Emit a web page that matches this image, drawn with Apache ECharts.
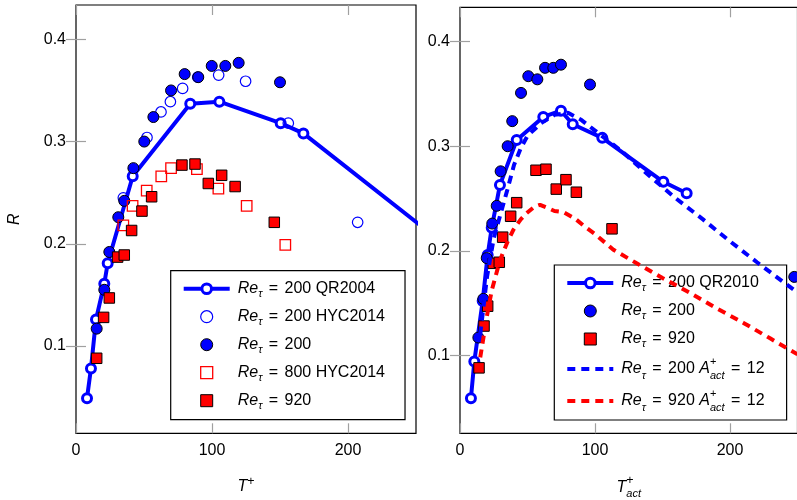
<!DOCTYPE html>
<html>
<head>
<meta charset="utf-8">
<script src="https://cdn.jsdelivr.net/npm/echarts@6/dist/echarts.min.js"></script>
<style>
  html, body { margin: 0; padding: 0; background: #fff; }
  #chart { width: 797px; height: 500px; }
</style>
</head>
<body>
<div id="chart"></div>
<script>
// ---- Left panel: R against T+ ----
const qr2004T = [8.1, 11, 14.7, 20.8, 23.3, 41.7, 84, 105.4, 150.5, 167.2, 300];
const qr2004R = [0.049, 0.078, 0.126, 0.161, 0.181, 0.266, 0.337, 0.339, 0.318, 0.308, 0.169];

const hyc200T = [34.8, 52.2, 62.5, 69.4, 78.4, 89.5, 104.9, 124.7, 156.1, 207.1];
const hyc200R = [0.245, 0.304, 0.329, 0.339, 0.352, 0.363, 0.365, 0.359, 0.318, 0.221];

const dns200T = [15.2, 20.8, 24.5, 31.1, 35.5, 42.2, 50.2, 56.9, 69.9, 79.9, 89.9, 99.8, 109.8, 119.6, 150];
const dns200R = [0.117, 0.155, 0.192, 0.226, 0.242, 0.274, 0.300, 0.324, 0.350, 0.366, 0.363, 0.374, 0.374, 0.377, 0.358];

const hyc800T = [34.8, 41.6, 52, 62.7, 69.9, 88.9, 104.7, 125.5, 153.9];
const hyc800R = [0.218, 0.237, 0.252, 0.266, 0.274, 0.273, 0.254, 0.237, 0.199];

const dns920T = [15.2, 20.3, 24.5, 30.6, 35.5, 40.9, 48.5, 55.6, 77.9, 87.5, 97.3, 107.1, 117, 145.8];
const dns920R = [0.088, 0.128, 0.147, 0.187, 0.189, 0.213, 0.232, 0.246, 0.277, 0.278, 0.259, 0.267, 0.256, 0.221];

// ---- Right panel: R against T+_act ----
const qr2010T = [8.1, 10.6, 16.8, 20.5, 23.5, 29.6, 42, 61.7, 74.8, 83.5, 105.4, 150.6, 167.9];
const qr2010R = [0.059, 0.094, 0.152, 0.196, 0.222, 0.263, 0.306, 0.328, 0.334, 0.321, 0.308, 0.266, 0.255];

const act200T = [13.6, 17.3, 19.8, 23.9, 27.2, 30.1, 35.3, 38.7, 45.2, 50.6, 57.3, 63, 69.1, 74.8, 96.3, 247.6];
const act200R = [0.117, 0.154, 0.193, 0.226, 0.243, 0.276, 0.300, 0.324, 0.351, 0.367, 0.364, 0.375, 0.375, 0.378, 0.359, 0.175];

const act920T = [14.1, 17.8, 20.5, 24.7, 29.1, 31.6, 37.5, 42, 56.3, 63.7, 71.3, 78.5, 86.2, 112.6];
const act920R = [0.088, 0.128, 0.147, 0.188, 0.189, 0.213, 0.233, 0.246, 0.277, 0.278, 0.259, 0.268, 0.256, 0.221];

const model200T = [15, 20, 25, 30, 35, 40, 45, 50, 60, 70, 80, 90, 100, 120, 140, 160, 180, 200, 220, 250];
const model200R = [0.120, 0.175, 0.212, 0.235, 0.258, 0.282, 0.298, 0.310, 0.322, 0.330, 0.332, 0.325, 0.315, 0.295, 0.272, 0.250, 0.230, 0.209, 0.189, 0.160];

const model920T = [15, 20, 23.5, 29.6, 35, 39.5, 45, 49.4, 55, 59.3, 65, 70, 76.5, 85, 92.6, 100, 113.6, 130.9, 150, 170, 190, 210, 230, 250];
const model920R = [0.098, 0.138, 0.162, 0.191, 0.208, 0.220, 0.230, 0.236, 0.242, 0.244, 0.241, 0.238, 0.237, 0.231, 0.223, 0.216, 0.201, 0.188, 0.174, 0.160, 0.145, 0.131, 0.116, 0.101];

// ---- Ticks ----
const xTicks = [0, 100, 200];
const yTicks = [0.1, 0.2, 0.3, 0.4];

const FONT = '"Liberation Sans", Arial, Helvetica, sans-serif';
const BLUE = '#0000ff';
const RED = '#ff0000';
const SQUARE = 'path://M0,0H10V10H0Z';

function pairs(xs, ys) { return xs.map((x, i) => [x, ys[i]]); }

const base = { fontFamily: FONT, color: '#000', align: 'left' };
const rich = {
  it:   Object.assign({ fontStyle: 'italic', fontSize: 16, lineHeight: 22 }, base),
  it2:  Object.assign({ fontStyle: 'italic', fontSize: 16, lineHeight: 26 }, base),
  n:    Object.assign({ fontSize: 16, lineHeight: 22 }, base),
  eq:   Object.assign({ fontSize: 16, lineHeight: 22, padding: [0, 2, 0, 2] }, base),
  sub:  Object.assign({ fontStyle: 'italic', fontSize: 11, lineHeight: 12, height: 12, verticalAlign: 'bottom' }, base),
  sup:  Object.assign({ fontSize: 11, lineHeight: 12, height: 12, verticalAlign: 'top' }, base),
  supz: Object.assign({ fontSize: 11, lineHeight: 12, height: 12, verticalAlign: 'top', width: 0 }, base),
  xsup: Object.assign({ fontSize: 12.5, lineHeight: 12, height: 12, verticalAlign: 'top' }, base),
  xsupz: Object.assign({ fontSize: 12.5, lineHeight: 12, height: 12, verticalAlign: 'top', width: 0 }, base)
};

const legendLabels = {
  qr2004: '{it|Re}{sub|τ}{eq| = }{n|200 QR2004}',
  hyc200: '{it|Re}{sub|τ}{eq| = }{n|200 HYC2014}',
  dns200: '{it|Re}{sub|τ}{eq| = }{n|200}',
  hyc800: '{it|Re}{sub|τ}{eq| = }{n|800 HYC2014}',
  dns920: '{it|Re}{sub|τ}{eq| = }{n|920}',
  qr2010: '{it|Re}{sub|τ}{eq| = }{n|200 QR2010}',
  act200: '{it|Re}{sub|τ}{eq| = }{n|200}',
  act920: '{it|Re}{sub|τ}{eq| = }{n|920}',
  les200: '{it2|Re}{sub|τ}{eq| = }{n|200 }{it|A}{supz|+}{sub|act}{eq| = }{n|12}',
  les920: '{it2|Re}{sub|τ}{eq| = }{n|920 }{it|A}{supz|+}{sub|act}{eq| = }{n|12}'
};

const tick = (vals) => ({
  show: true, inside: true, length: 10, customValues: vals,
  lineStyle: { color: '#a0a0a0', width: 1.2 }
});
const labelStyle = { fontSize: 16, fontFamily: FONT, color: '#000' };

function xAxisDef(grid, pos, withLabels, name, gap) {
  return {
    type: 'value', gridIndex: grid, position: pos, min: 0, max: 250,
    axisLine: { show: false }, splitLine: { show: false },
    axisTick: tick(xTicks),
    axisLabel: withLabels
      ? Object.assign({ customValues: xTicks, margin: 9 }, labelStyle)
      : { show: false },
    name: name || '', nameLocation: 'middle', nameGap: gap || 42, nameMoveOverlap: false,
    nameTextStyle: { rich: rich, fontSize: 16, fontFamily: FONT, color: '#000' }
  };
}
function yAxisDef(grid, pos, lo, hi, withLabels, name) {
  return {
    type: 'value', gridIndex: grid, position: pos, min: lo, max: hi,
    axisLine: { show: false }, splitLine: { show: false },
    axisTick: tick(yTicks),
    axisLabel: withLabels
      ? Object.assign({ customValues: yTicks, margin: 10, formatter: v => v.toFixed(1) }, labelStyle)
      : { show: false },
    name: name || '', nameLocation: 'middle', nameGap: 52, nameRotate: 90, nameMoveOverlap: false,
    nameTextStyle: { fontStyle: 'italic', fontSize: 16, fontFamily: FONT, color: '#000', lineHeight: 18 }
  };
}

const qrStyle = (name, xi, T, R) => ({
  name: name, type: 'line', xAxisIndex: xi, yAxisIndex: xi,
  data: pairs(T, R), clip: true,
  symbol: 'circle', symbolSize: 9, showAllSymbol: true,
  lineStyle: { color: BLUE, width: 4, opacity: 1 },
  itemStyle: { color: '#fff', borderColor: BLUE, borderWidth: 3, opacity: 1 },
  z: 2
});
const scatter = (name, xi, T, R, symbol, size, item) => ({
  name: name, type: 'scatter', xAxisIndex: xi, yAxisIndex: xi,
  data: pairs(T, R), symbol: symbol, symbolSize: size, itemStyle: item, z: 3
});
const dashed = (name, T, R, color) => ({
  name: name, type: 'line', xAxisIndex: 2, yAxisIndex: 2,
  data: pairs(T, R), clip: true, symbol: 'none',
  lineStyle: { color: color, width: 4, type: [8, 6], opacity: 1 },
  itemStyle: { color: color }, z: 4
});

const filledBlue = { color: BLUE, borderColor: '#000', borderWidth: 1, opacity: 1 };
const filledRed = { color: RED, borderColor: '#000', borderWidth: 1, opacity: 1 };
const openBlue = { color: 'rgba(0,0,0,0)', borderColor: BLUE, borderWidth: 1.2, opacity: 1 };
const openRed = { color: 'rgba(0,0,0,0)', borderColor: RED, borderWidth: 1.3, opacity: 1 };
const hidden = { color: 'rgba(0,0,0,0)', borderWidth: 0, opacity: 0 };

const legendText = { fontSize: 16, fontFamily: FONT, color: '#000', lineHeight: 22, padding: [0, 0, 0, 3], rich: rich };
const legendBase = {
  orient: 'vertical', itemWidth: 46, itemHeight: 12, itemGap: 6,
  borderColor: '#000', borderWidth: 1.2, borderRadius: 0, backgroundColor: '#fff',
  selectedMode: false, textStyle: legendText, formatter: n => legendLabels[n]
};

const gridBase = {
  show: true, borderColor: '#000', borderWidth: 1.2, backgroundColor: 'transparent',
  containLabel: false, outerBoundsMode: 'none'
};

const option = {
  animation: false,
  backgroundColor: '#fff',
  grid: [
    Object.assign({ left: 76, top: 5, width: 340, height: 428.3 }, gridBase),
    Object.assign({ left: 460, top: 7.3, width: 337.5, height: 426 }, gridBase)
  ],
  xAxis: [
    xAxisDef(0, 'bottom', true, '{it|T}{xsup|+}', 42),
    xAxisDef(0, 'top', false),
    xAxisDef(1, 'bottom', true, '{it2|T}{xsupz|+}{sub|act}', 41),
    xAxisDef(1, 'top', false)
  ],
  yAxis: [
    yAxisDef(0, 'left', 0.0146, 0.4336, true, 'R'),
    yAxisDef(0, 'right', 0.0146, 0.4336, false),
    yAxisDef(1, 'left', 0.0254, 0.4329, true),
    yAxisDef(1, 'right', 0.0254, 0.4329, false)
  ],
  legend: [
    Object.assign({}, legendBase, {
      left: 170.7, top: 270.7, padding: [7, 20, 8, 11],
      data: [
        { name: 'qr2004', itemStyle: { color: '#fff', borderColor: BLUE, borderWidth: 3, opacity: 1 }, lineStyle: { color: BLUE, width: 4, opacity: 1 } },
        { name: 'hyc200', itemStyle: openBlue },
        { name: 'dns200', itemStyle: filledBlue },
        { name: 'hyc800', icon: SQUARE, itemStyle: openRed },
        { name: 'dns920', icon: SQUARE, itemStyle: filledRed }
      ]
    }),
    Object.assign({}, legendBase, {
      left: 554.3, top: 265, padding: [7, 22, 6, 11],
      data: [
        { name: 'qr2010', itemStyle: { color: '#fff', borderColor: BLUE, borderWidth: 3, opacity: 1 }, lineStyle: { color: BLUE, width: 4, opacity: 1 } },
        { name: 'act200', itemStyle: filledBlue },
        { name: 'act920', icon: SQUARE, itemStyle: filledRed },
        { name: 'les200', itemStyle: hidden, lineStyle: { color: BLUE, width: 4, type: [8, 6], opacity: 1 } },
        { name: 'les920', itemStyle: hidden, lineStyle: { color: RED, width: 4, type: [8, 6], opacity: 1 } }
      ]
    })
  ],
  series: [
    qrStyle('qr2004', 0, qr2004T, qr2004R),
    scatter('hyc200', 0, hyc200T, hyc200R, 'circle', 10.5, openBlue),
    scatter('dns200', 0, dns200T, dns200R, 'circle', 11, filledBlue),
    scatter('hyc800', 0, hyc800T, hyc800R, 'rect', 10.5, openRed),
    scatter('dns920', 0, dns920T, dns920R, 'rect', 10.5, filledRed),

    qrStyle('qr2010', 2, qr2010T, qr2010R),
    scatter('act200', 2, act200T, act200R, 'circle', 11, filledBlue),
    scatter('act920', 2, act920T, act920R, 'rect', 10.5, filledRed),
    dashed('les200', model200T, model200R, BLUE),
    dashed('les920', model920T, model920R, RED)
  ]
};

const chart = echarts.init(document.getElementById('chart'), null, { renderer: 'canvas' });
chart.setOption(option);
</script>
</body>
</html>
